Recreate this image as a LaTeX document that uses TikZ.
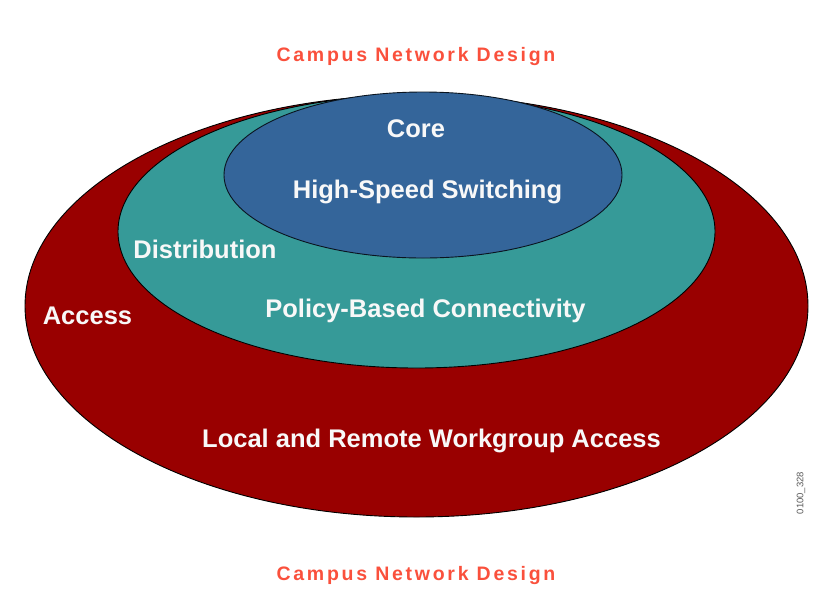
\documentclass[tikz,border=0pt]{standalone}
\usepackage{fontspec}
\setmainfont{Liberation Sans}
\newfontfamily\titlefont[LetterSpace=14]{Liberation Sans}
\definecolor{accessred}{RGB}{153,0,0}
\definecolor{distteal}{RGB}{54,154,152}
\definecolor{coreblue}{RGB}{52,101,154}
\definecolor{titlered}{RGB}{250,80,60}
\definecolor{labelwhite}{RGB}{248,248,248}
\tikzset{
  layer/.style={draw=black, line width=0.9pt},
  lbl/.style={text=labelwhite, font=\fontsize{25.5}{30}\selectfont\bfseries, inner sep=0pt, anchor=base},
  ttl/.style={text=titlered, font=\titlefont\fontsize{19.5}{23}\selectfont\bfseries, inner sep=0pt, anchor=base},
  tag/.style={text=black!65, font=\fontsize{9.5}{10}\selectfont, inner sep=0pt, rotate=90}
}
\begin{document}
\begin{tikzpicture}[x=1pt,y=-1pt]
\useasboundingbox[fill=white] (0,0) rectangle (827,590);
\fill[layer, fill=accessred] (416.5,306) ellipse [x radius=391.5, y radius=211];
\fill[layer, fill=distteal] (416.5,231.5) ellipse [x radius=298.5, y radius=136.5];
\fill[layer, fill=coreblue, draw=black!80!coreblue] (423,175) ellipse [x radius=199, y radius=83];
\node[ttl] (t1) at (416,61) {Campus Network Design};
\node[ttl] (t2) at (416,580) {Campus Network Design};
\node[lbl] (core) at (416,137) {Core};
\node[lbl] (hss) at (427.5,198) {High-Speed Switching};
\node[lbl] (dist) at (205,258) {Distribution};
\node[lbl] (pol) at (425.5,317) {Policy-Based Connectivity};
\node[lbl] (acc) at (87.5,324) {Access};
\node[lbl] (loc) at (431.5,447) {Local and Remote Workgroup Access};
\node[tag] (code) at (801,493) {0100\_328};
\end{tikzpicture}
\end{document}
